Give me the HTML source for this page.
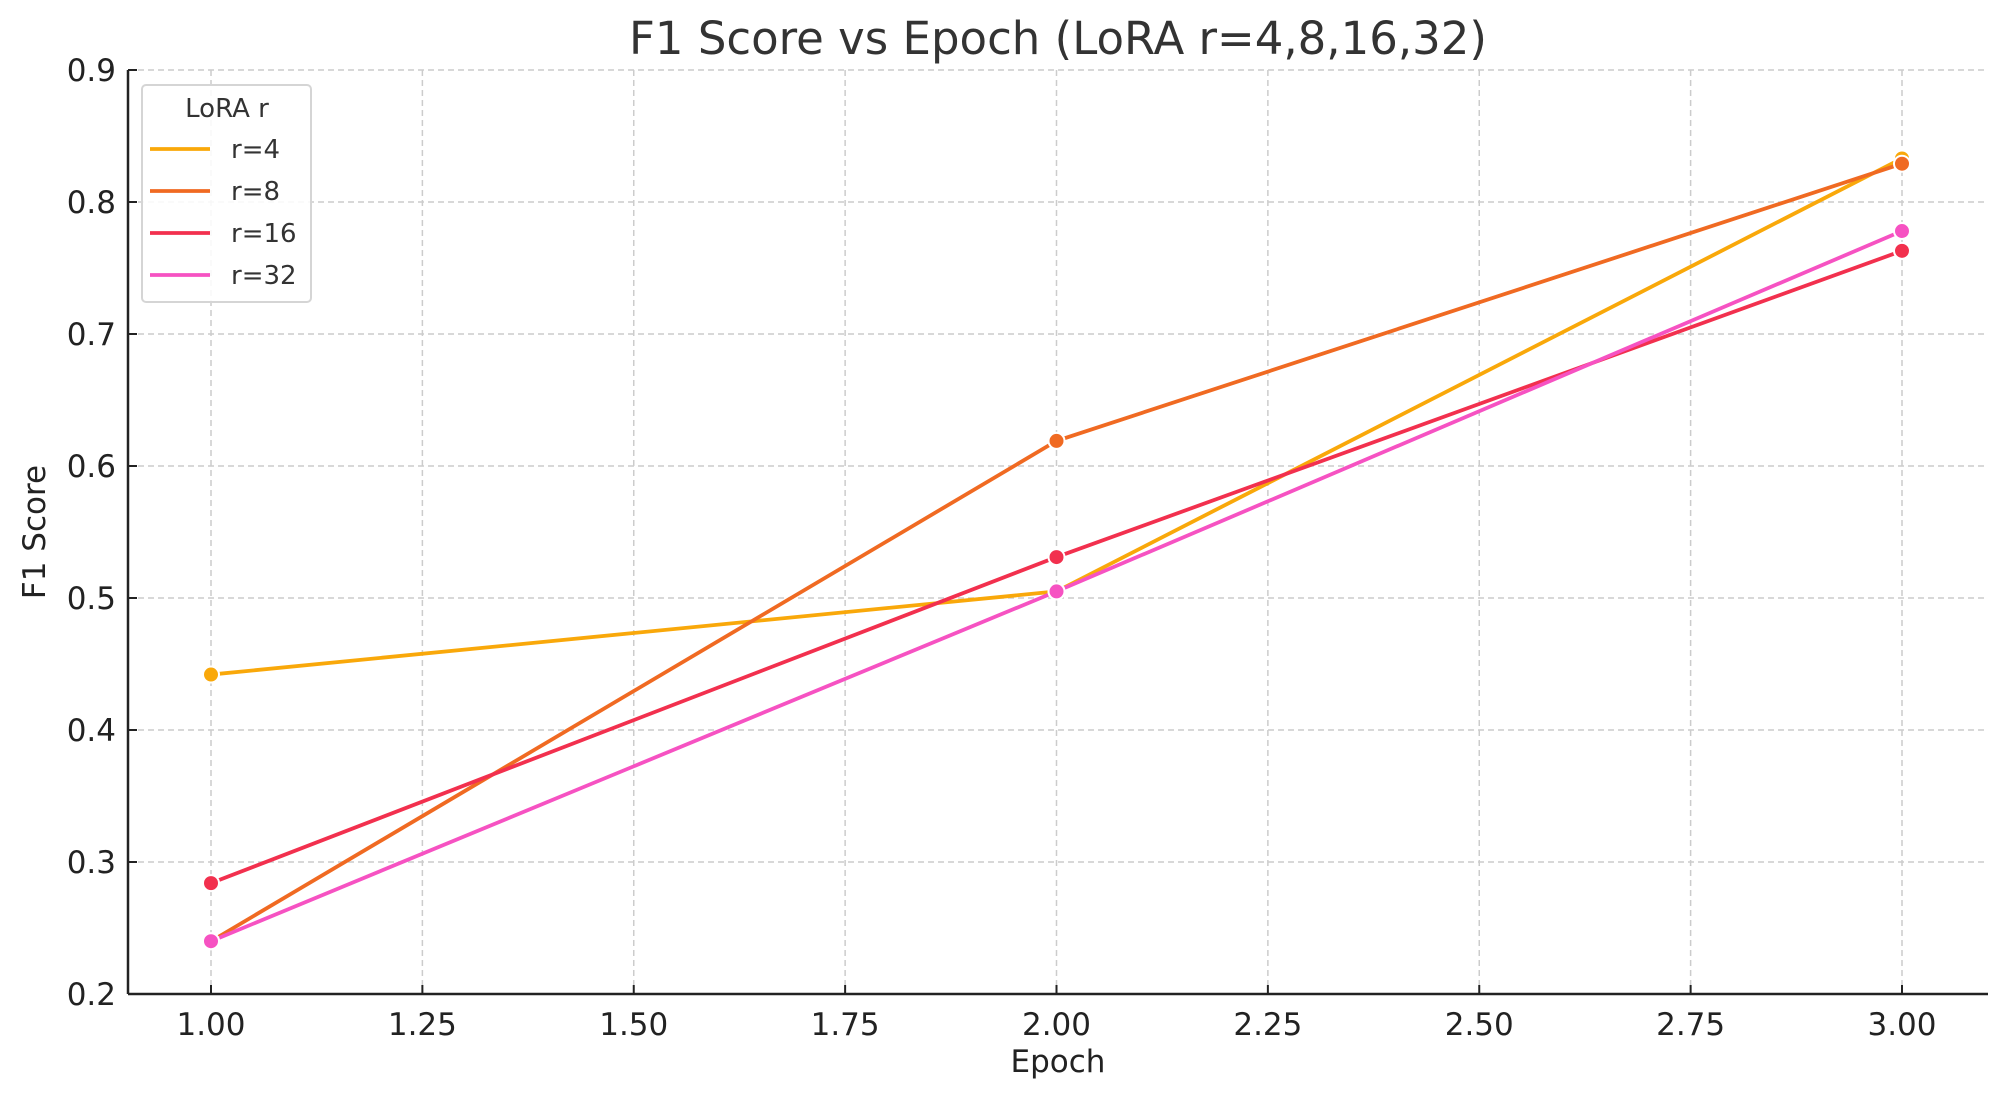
<!DOCTYPE html>
<html><head><meta charset="utf-8"><style>
html,body{margin:0;padding:0;background:#fff;}
svg{display:block;font-family:"DejaVu Sans","Liberation Sans",sans-serif;}
</style></head><body>
<svg id="chart" width="2007" height="1101" viewBox="0 0 2007 1101" xmlns="http://www.w3.org/2000/svg">
<text x="1058" y="54" text-anchor="middle" font-size="45" fill="#333">F1 Score vs Epoch (LoRA r=4,8,16,32)</text>
<g id="grid"></g>
<g id="axes"></g>
<g id="series"></g>
<text x="1058" y="1072" text-anchor="middle" font-size="31" fill="#222">Epoch</text>
<text transform="translate(45,532) rotate(-90)" text-anchor="middle" font-size="31" fill="#222">F1 Score</text>
<g id="legend"></g>
</svg>
<script>
const epochs = [1, 2, 3];
const seriesNames = ["r=4", "r=8", "r=16", "r=32"];
const r4 = [0.442, 0.505, 0.833];
const r8 = [0.240, 0.619, 0.829];
const r16 = [0.284, 0.531, 0.763];
const r32 = [0.240, 0.505, 0.778];
const xTicks = [1.00, 1.25, 1.50, 1.75, 2.00, 2.25, 2.50, 2.75, 3.00];
const yTicks = [0.2, 0.3, 0.4, 0.5, 0.6, 0.7, 0.8, 0.9];

const colors = ["#f9a80a", "#f06a22", "#f2304e", "#f652c2"];
const allSeries = [r4, r8, r16, r32];
const L = 128, R = 1988, T = 70, B = 994;
const X0 = 211, X1 = 1902;
function xs(v){ return X0 + (v - 1) / 2 * (X1 - X0); }
function ys(v){ return B - (v - 0.2) / 0.7 * (B - T); }
const NS = "http://www.w3.org/2000/svg";
function mk(tag, attrs, parent){
  const e = document.createElementNS(NS, tag);
  for (const k in attrs) e.setAttribute(k, attrs[k]);
  parent.appendChild(e);
  return e;
}
const grid = document.getElementById('grid');
const axes = document.getElementById('axes');
xTicks.forEach(t => {
  const x = xs(t);
  const g = mk('line', {x1:x, x2:x, y1:T, y2:B, stroke:'#cccccc', 'stroke-width':1.5, 'stroke-dasharray':'6,4'}, grid);
  
  
  const tk = mk('line', {x1:x, x2:x, y1:B, y2:B-9, stroke:'#222', 'stroke-width':2}, axes);
  
  
  const lb = mk('text', {x:x, y:B+41, 'text-anchor':'middle', 'font-size':31, fill:'#222'}, axes);
  lb.textContent = t.toFixed(2);
  
  
});
yTicks.forEach(t => {
  const y = ys(t);
  const g = mk('line', {x1:L, x2:R, y1:y, y2:y, stroke:'#cccccc', 'stroke-width':1.5, 'stroke-dasharray':'6,4'}, grid);
  
  
  const tk = mk('line', {x1:L, x2:L+9, y1:y, y2:y, stroke:'#222', 'stroke-width':2}, axes);
  
  
  const lb = mk('text', {x:L-12, y:y+11, 'text-anchor':'end', 'font-size':31, fill:'#222'}, axes);
  lb.textContent = t.toFixed(1);
  
  
});
const ax1 = mk('line', {x1:L, x2:L, y1:T, y2:B, stroke:'#222', 'stroke-width':2.5}, axes);


const ax2 = mk('line', {x1:L, x2:R, y1:B, y2:B, stroke:'#222', 'stroke-width':2.5}, axes);



const sg = document.getElementById('series');
allSeries.forEach((vals, i) => {
  const pts = vals.map((v, j) => xs(epochs[j]) + ',' + ys(v)).join(' ');
  const pl = mk('polyline', {points:pts, fill:'none', stroke:colors[i], 'stroke-width':3.8}, sg);
  
  
});
allSeries.forEach((vals, i) => {
  vals.forEach((v, j) => {
    const c = mk('circle', {cx:xs(epochs[j]), cy:ys(v), r:8, fill:colors[i], stroke:'#fff', 'stroke-width':2}, sg);
    
    
  });
});

const lg = document.getElementById('legend');
const box = mk('rect', {x:142, y:85, width:169, height:217, rx:4, fill:'#fff', 'fill-opacity':0.85, stroke:'#d5d5d5', 'stroke-width':2}, lg);


const lt = mk('text', {x:227, y:117, 'text-anchor':'middle', 'font-size':26, fill:'#333'}, lg);
lt.textContent = 'LoRA r';


seriesNames.forEach((n, i) => {
  const y = 149 + i * 42;
  const ln = mk('line', {x1:150, x2:210, y1:y, y2:y, stroke:colors[i], 'stroke-width':3.8}, lg);
  
  
  const tx = mk('text', {x:231, y:y+9, 'font-size':26, fill:'#333'}, lg);
  tx.textContent = n;
  
  
});
</script>
</body></html>
